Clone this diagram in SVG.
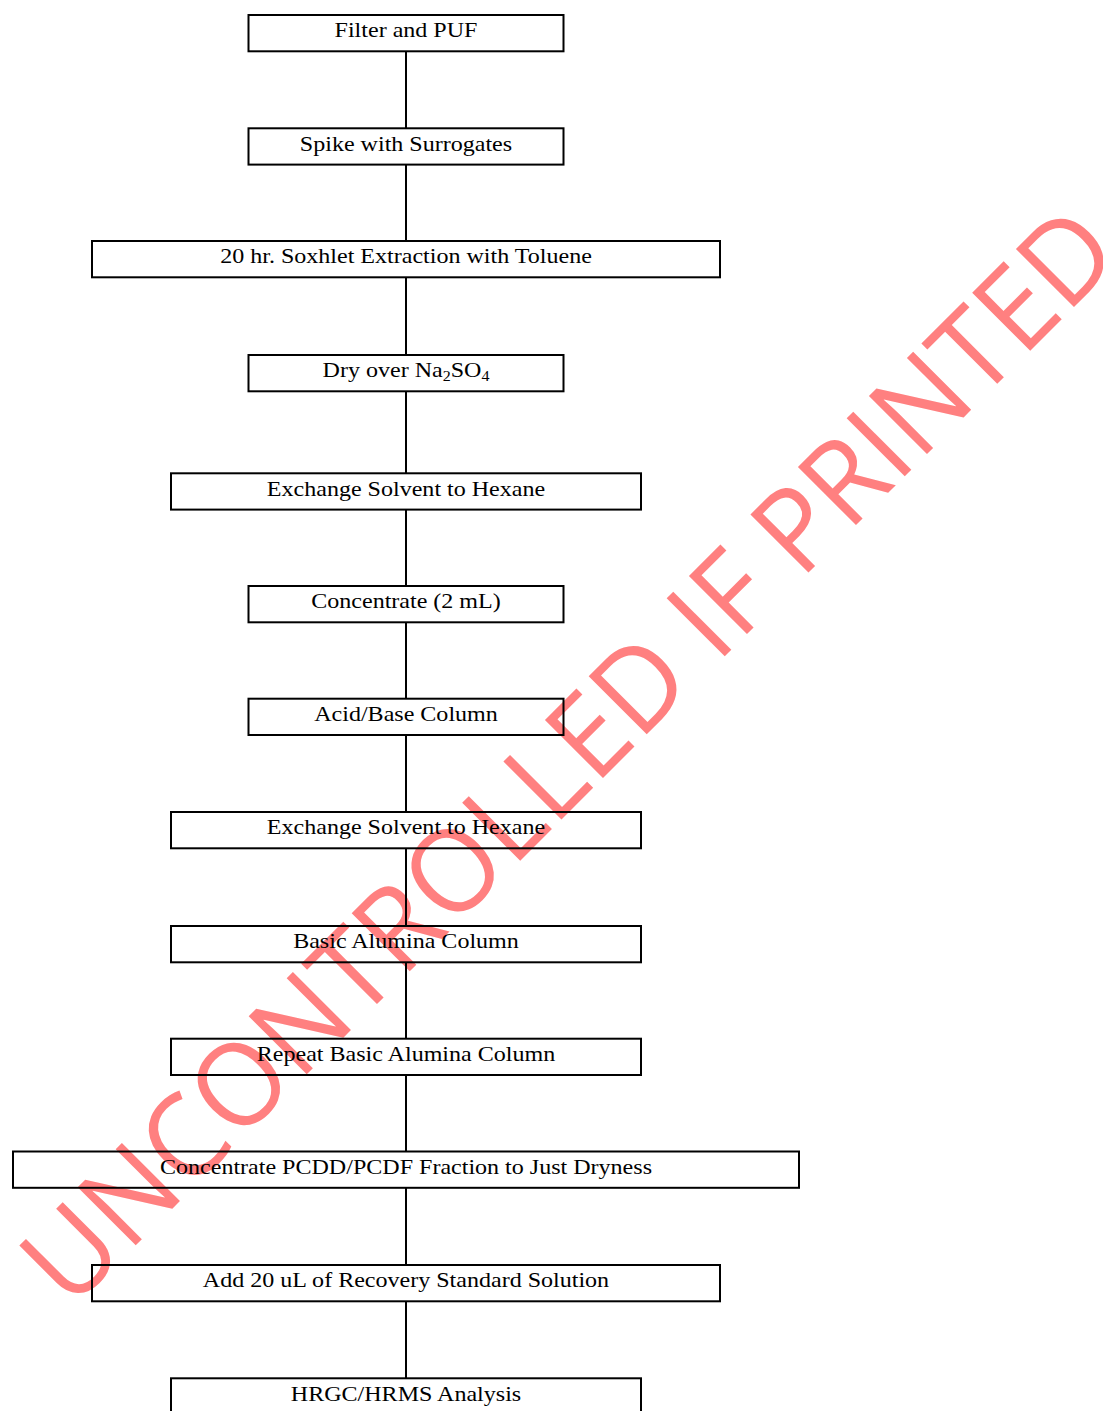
<svg xmlns="http://www.w3.org/2000/svg" width="1103" height="1411" viewBox="0 0 1103 1411">
<style>
  .box { fill: none; stroke: #000; stroke-width: 2; }
  .conn { stroke: #000; stroke-width: 2; fill: none; }
  .lbl { font-family: "Liberation Serif", "Times New Roman", serif; font-size: 21px; text-anchor: middle; fill: #000; }
  .sub { font-size: 14px; }
  .wm { font-family: "Open Sans", "DejaVu Sans", sans-serif; font-size: 115px; fill: #ff8080; text-anchor: middle; }
</style>
<rect x="0" y="0" width="1103" height="1411" fill="#fff"/>
<g id="watermark">
  <text class="wm" transform="translate(597 784) rotate(-45)" textLength="1490" lengthAdjust="spacingAndGlyphs">UNCONTROLLED IF PRINTED</text>
</g>
<g id="connectors">
  <line class="conn" x1="406" y1="52" x2="406" y2="128"/>
  <line class="conn" x1="406" y1="165" x2="406" y2="241"/>
  <line class="conn" x1="406" y1="278" x2="406" y2="355"/>
  <line class="conn" x1="406" y1="391" x2="406" y2="473"/>
  <line class="conn" x1="406" y1="509" x2="406" y2="586"/>
  <line class="conn" x1="406" y1="622" x2="406" y2="698"/>
  <line class="conn" x1="406" y1="735" x2="406" y2="812"/>
  <line class="conn" x1="406" y1="848" x2="406" y2="926"/>
  <line class="conn" x1="406" y1="962" x2="406" y2="1038"/>
  <line class="conn" x1="406" y1="1075" x2="406" y2="1151"/>
  <line class="conn" x1="406" y1="1188" x2="406" y2="1265"/>
  <line class="conn" x1="406" y1="1301" x2="406" y2="1378"/>
</g>
<g id="n1">
  <rect class="box" x="248.5" y="15" width="315" height="36.3"/>
  <text class="lbl" transform="translate(406 37.3) scale(1.145 1)">Filter and PUF</text>
</g>
<g id="n2">
  <rect class="box" x="248.5" y="128.3" width="315" height="36.3"/>
  <text class="lbl" transform="translate(406 150.6) scale(1.145 1)">Spike with Surrogates</text>
</g>
<g id="n3">
  <rect class="box" x="92" y="241" width="628" height="36.3"/>
  <text class="lbl" transform="translate(406 263.3) scale(1.145 1)">20 hr. Soxhlet Extraction with Toluene</text>
</g>
<g id="n4">
  <rect class="box" x="248.5" y="355" width="315" height="36.3"/>
  <text class="lbl" transform="translate(406 377.3) scale(1.145 1)">Dry over Na<tspan class="sub" dy="4">2</tspan><tspan dy="-4">SO</tspan><tspan class="sub" dy="4">4</tspan></text>
</g>
<g id="n5">
  <rect class="box" x="171" y="473.3" width="470" height="36.3"/>
  <text class="lbl" transform="translate(406 495.6) scale(1.145 1)">Exchange Solvent to Hexane</text>
</g>
<g id="n6">
  <rect class="box" x="248.5" y="586" width="315" height="36.3"/>
  <text class="lbl" transform="translate(406 608.3) scale(1.145 1)">Concentrate (2 mL)</text>
</g>
<g id="n7">
  <rect class="box" x="248.5" y="698.7" width="315" height="36.3"/>
  <text class="lbl" transform="translate(406 721) scale(1.145 1)">Acid/Base Column</text>
</g>
<g id="n8">
  <rect class="box" x="171" y="812" width="470" height="36.3"/>
  <text class="lbl" transform="translate(406 834.3) scale(1.145 1)">Exchange Solvent to Hexane</text>
</g>
<g id="n9">
  <rect class="box" x="171" y="926" width="470" height="36.3"/>
  <text class="lbl" transform="translate(406 948.3) scale(1.145 1)">Basic Alumina Column</text>
</g>
<g id="n10">
  <rect class="box" x="171" y="1038.7" width="470" height="36.3"/>
  <text class="lbl" transform="translate(406 1061) scale(1.145 1)">Repeat Basic Alumina Column</text>
</g>
<g id="n11">
  <rect class="box" x="13" y="1151.5" width="786" height="36.3"/>
  <text class="lbl" transform="translate(406 1173.8) scale(1.145 1)">Concentrate PCDD/PCDF Fraction to Just Dryness</text>
</g>
<g id="n12">
  <rect class="box" x="92" y="1265" width="628" height="36.3"/>
  <text class="lbl" transform="translate(406 1287.3) scale(1.145 1)">Add 20 uL of Recovery Standard Solution</text>
</g>
<g id="n13">
  <rect class="box" x="171" y="1378.3" width="470" height="36.3"/>
  <text class="lbl" transform="translate(406 1400.6) scale(1.145 1)">HRGC/HRMS Analysis</text>
</g>
</svg>
